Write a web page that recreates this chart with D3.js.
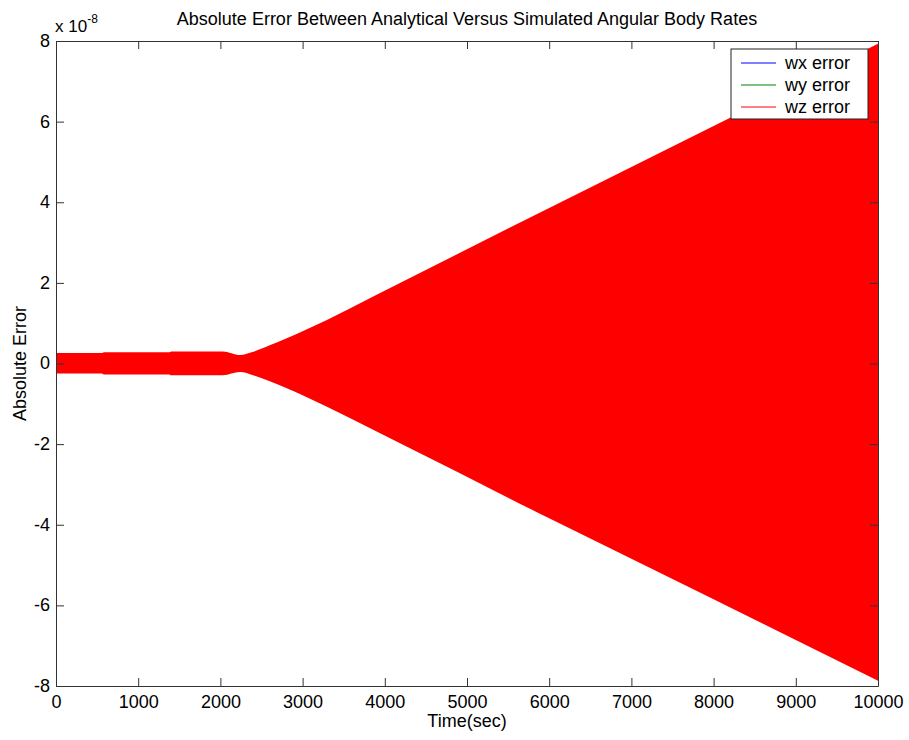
<!DOCTYPE html>
<html lang="en">
<head>
  <meta charset="UTF-8">
  <title>Absolute Error</title>
  <style>
    body { margin: 0; background: #fff; }
    text { font-family: Arial, "Liberation Sans", sans-serif; fill: #000; }
  </style>
</head>
<body>

<svg id="chart" width="909" height="740"></svg>

<script src="https://d3js.org/d3.v7.min.js"></script>

<script>

    // envelope of the wz error oscillation (units of 1e-8)
    var timeSec = [0, 560, 580, 1380, 1400, 2030, 2240, 2400, 2600, 2800, 3000, 4185, 6000, 8000, 10000];
    var wzUpper = [0.26, 0.26, 0.28, 0.28, 0.30, 0.30, 0.21, 0.29, 0.45, 0.62, 0.80, 2.0, 3.86, 5.89, 7.93];
    var wzLower = [-0.25, -0.25, -0.27, -0.27, -0.29, -0.29, -0.21, -0.29, -0.44, -0.61, -0.79, -1.98, -3.84, -5.85, -7.87];

    var seriesNames = ["wx error", "wy error", "wz error"];
    var seriesColors = ["#0000ff", "#008000", "#ff0000"];

    var xTicks = [0, 1000, 2000, 3000, 4000, 5000, 6000, 7000, 8000, 9000, 10000];
    var yTicks = [-8, -6, -4, -2, 0, 2, 4, 6, 8];

    var svg = d3.select("#chart"),
        mLeft = 56, mRight = 878, mTop = 41, mBottom = 686;

    var x = d3.scaleLinear().domain([0, 10000]).range([mLeft, mRight]),
        y = d3.scaleLinear().domain([-8, 8]).range([mBottom, mTop]);

    var data = timeSec.map(function (t, i) {
      return {t: t, hi: wzUpper[i], lo: wzLower[i]};
    });

    var area = d3.area()
      .curve(d3.curveMonotoneX)
      .x(function (d) { return x(d.t); })
      .y0(function (d) { return y(d.lo); })
      .y1(function (d) { return y(d.hi); });

    svg.append("path")
      .datum(data)
      .attr("d", area)
      .attr("fill", seriesColors[2]);

    var axisColor = "#333";
    var plain = function (d) { return String(d); };

    // axes with inward ticks on all sides (matlab style)
    var xb = svg.append("g").attr("transform", "translate(0," + mBottom + ")")
      .call(d3.axisBottom(x).tickValues(xTicks).tickFormat(plain)
        .tickSizeInner(-8).tickSizeOuter(0));
    svg.append("g").attr("transform", "translate(0," + mTop + ")")
      .call(d3.axisTop(x).tickValues(xTicks).tickSizeInner(-8).tickSizeOuter(0).tickFormat(""));
    var yl = svg.append("g").attr("transform", "translate(" + mLeft + ",0)")
      .call(d3.axisLeft(y).tickValues(yTicks).tickFormat(plain)
        .tickSizeInner(-8).tickSizeOuter(0));
    svg.append("g").attr("transform", "translate(" + mRight + ",0)")
      .call(d3.axisRight(y).tickValues(yTicks).tickSizeInner(-8).tickSizeOuter(0).tickFormat(""));

    svg.selectAll(".domain, .tick line").attr("stroke", axisColor);
    svg.selectAll(".tick text")
      .style("font-family", "Arial, 'Liberation Sans', sans-serif")
      .style("font-size", "18px")
      .attr("fill", "#000");
    xb.selectAll(".tick text").attr("y", 22).attr("dy", "0");
    yl.selectAll(".tick text").attr("x", -6).attr("dy", "0.3em");

    // exponent label
    var ex = svg.append("text").attr("x", 55).attr("y", 32).style("font-size", "17px");
    ex.append("tspan").text("x 10");
    ex.append("tspan").attr("dy", -9).style("font-size", "12px").text("-8");

    svg.append("text")
      .attr("x", (mLeft + mRight) / 2).attr("y", 25)
      .attr("text-anchor", "middle")
      .style("font-size", "18px")
      .text("Absolute Error Between Analytical Versus Simulated Angular Body Rates");

    svg.append("text")
      .attr("x", (mLeft + mRight) / 2).attr("y", 727)
      .attr("text-anchor", "middle")
      .style("font-size", "18px")
      .text("Time(sec)");

    svg.append("text")
      .attr("transform", "translate(26," + ((mTop + mBottom) / 2) + ") rotate(-90)")
      .attr("text-anchor", "middle")
      .style("font-size", "18px")
      .text("Absolute Error");

    // legend
    var lg = svg.append("g").attr("transform", "translate(731,49)");
    lg.append("rect").attr("width", 137).attr("height", 70)
      .attr("fill", "#fff").attr("stroke", "#222");
    seriesNames.forEach(function (name, i) {
      var yy = 14 + i * 22;
      lg.append("line").attr("x1", 10).attr("x2", 45).attr("y1", yy).attr("y2", yy)
        .attr("stroke", seriesColors[i]).attr("stroke-width", 1);
      lg.append("text").attr("x", 54).attr("y", yy + 6)
        .style("font-size", "18px").text(name);
    });

</script>

</body>
</html>
